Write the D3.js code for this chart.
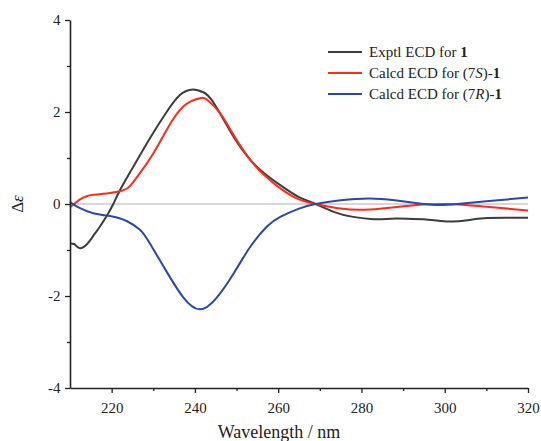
<!DOCTYPE html>
<html><head><meta charset="utf-8">
<script src="https://cdn.jsdelivr.net/npm/d3@7/dist/d3.min.js"></script>
<style>body{margin:0;background:#fff}svg{display:block}</style>
</head><body>
<svg id="c" width="541" height="441"></svg>
<script>
const exptl = [[210,-0.86],[211,-0.87],[211.6,-0.92],[212.3,-0.96],[213,-0.95],[214,-0.88],[215,-0.77],[216,-0.64],[217.2,-0.49],[218.2,-0.35],[219.2,-0.2],[220.4,0],[222,0.3],[225.2,0.81],[229.2,1.43],[233.2,2.0],[236.4,2.37],[239.5,2.49],[242,2.43],[244.5,2.2],[249.3,1.46],[253.3,0.96],[256.5,0.68],[260.5,0.41],[265,0.15],[269,0],[273.3,-0.17],[278,-0.28],[283,-0.33],[287,-0.32],[291,-0.32],[296,-0.34],[301,-0.38],[305,-0.36],[309.4,-0.31],[315,-0.3],[320,-0.3]];
const calc7S = [[210,-0.07],[211,0.0],[212.4,0.1],[214,0.17],[215.6,0.2],[217.5,0.22],[219.6,0.24],[222.8,0.3],[224.5,0.4],[226.8,0.67],[230,1.1],[233.2,1.61],[237.2,2.12],[241.2,2.3],[243,2.26],[246,1.98],[249.3,1.5],[253.3,0.96],[256.5,0.64],[260.5,0.34],[265,0.1],[269,0],[275,-0.1],[282,-0.12],[290,-0.05],[295,-0.01],[300,0],[305,-0.02],[310,-0.06],[320,-0.14]];
const calc7R = [[210,0.05],[211,-0.02],[212.4,-0.09],[215.6,-0.2],[219.6,-0.26],[221.5,-0.3],[223.6,-0.37],[226.8,-0.56],[229.2,-0.86],[233.2,-1.47],[237.2,-2.03],[241.1,-2.29],[245.1,-2.05],[249.3,-1.51],[253.3,-0.93],[257.3,-0.49],[260.5,-0.28],[265,-0.1],[269,0],[275,0.08],[282,0.12],[288,0.08],[293,0.02],[298,-0.02],[303,0],[310,0.06],[320,0.14]];
const xTicks = [220,240,260,280,300,320];
const xMinor = [230,250,270,290,310];
const yTicks = [-4,-2,0,2,4];
const yMinor = [-3,-1,1,3];

const svg = d3.select("#c");
const x = d3.scaleLinear().domain([210,320]).range([70,528]);
const y = d3.scaleLinear().domain([-4,4]).range([388,20]);
const font = "'Liberation Serif','Times New Roman',serif";

svg.append("line").attr("x1",x(210)).attr("x2",x(320)).attr("y1",y(0)).attr("y2",y(0))
  .attr("stroke","#b0b0b0").attr("stroke-width",1);

const line = d3.line().x(d=>x(d[0])).y(d=>y(d[1])).curve(d3.curveNatural);
const series = [[exptl,"#3c3c3c"],[calc7S,"#ff2a1a"],[calc7R,"#2a48a8"]];
series.forEach(([d,c])=>{
  svg.append("path").datum(d).attr("d",line).attr("fill","none")
    .attr("stroke",c).attr("stroke-width",2);
});

const gx = svg.append("g").attr("transform",`translate(0,${y(-4)})`)
  .call(d3.axisBottom(x).tickValues(xTicks).tickSize(5).tickSizeOuter(0).tickFormat(d3.format("d")));
const gxm = svg.append("g").attr("transform",`translate(0,${y(-4)})`)
  .call(d3.axisBottom(x).tickValues(xMinor).tickSize(3).tickSizeOuter(0).tickFormat(""));
gxm.select(".domain").remove();
const gy = svg.append("g").attr("transform",`translate(${x(210)},0)`)
  .call(d3.axisLeft(y).tickValues(yTicks).tickSize(5).tickSizeOuter(0).tickFormat(d3.format("d")));
const gym = svg.append("g").attr("transform",`translate(${x(210)},0)`)
  .call(d3.axisLeft(y).tickValues(yMinor).tickSize(3).tickSizeOuter(0).tickFormat(""));
gym.select(".domain").remove();
[gx,gy,gxm,gym].forEach(g=>{
  g.selectAll(".domain").attr("stroke","#222").attr("stroke-width",1.6);
  g.selectAll(".tick line").attr("stroke","#222").attr("stroke-width",1.3);
  g.selectAll(".tick text").attr("font-family",font).attr("font-size",15).attr("fill","#222");
});
gx.selectAll(".tick text").attr("dy","1.1em");
gy.selectAll(".tick text").attr("dx","-0.1em").text(d=>d<0?"-"+Math.abs(d):d);

svg.append("text").attr("x",279).attr("y",438).attr("text-anchor","middle")
  .attr("font-family",font).attr("font-size",18).attr("fill","#222").text("Wavelength / nm");
const yl = svg.append("text").attr("transform",`translate(23,${y(0)}) rotate(-90)`)
  .attr("text-anchor","middle").attr("font-family",font).attr("font-size",17).attr("fill","#222");
yl.append("tspan").text("Δ");
yl.append("tspan").attr("font-style","italic").text("ε");

const leg = [
  {c:"#3c3c3c", parts:[["Exptl ECD for ",""],["1","b"]]},
  {c:"#ff2a1a", parts:[["Calcd ECD for (7",""],["S","i"],[")-",""],["1","b"]]},
  {c:"#2a48a8", parts:[["Calcd ECD for (7",""],["R","i"],[")-",""],["1","b"]]}
];
leg.forEach((l,i)=>{
  const yy = 52 + i*21;
  svg.append("line").attr("x1",328).attr("x2",362).attr("y1",yy).attr("y2",yy)
    .attr("stroke",l.c).attr("stroke-width",2);
  const t = svg.append("text").attr("x",369).attr("y",yy+5).attr("font-family",font)
    .attr("font-size",15).attr("fill","#222");
  l.parts.forEach(([s,st])=>{
    const sp = t.append("tspan").text(s);
    if(st==="b") sp.attr("font-weight","bold");
    if(st==="i") sp.attr("font-style","italic");
  });
});
</script>
</body></html>
